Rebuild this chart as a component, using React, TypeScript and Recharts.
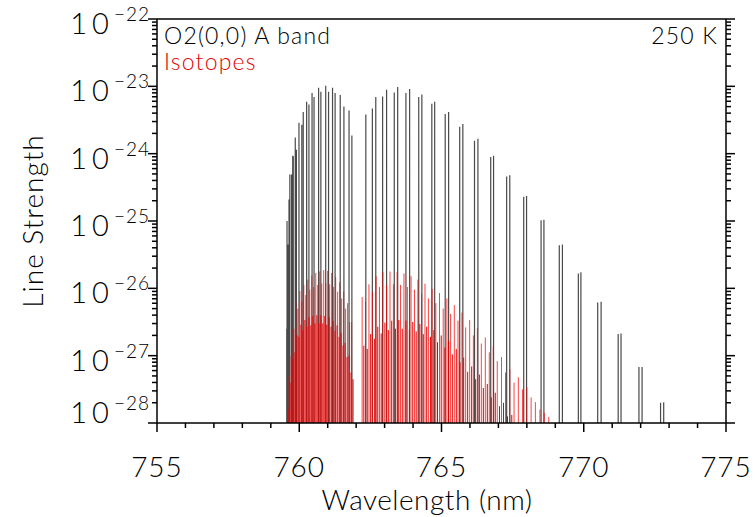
import React from 'react';
import { ComposedChart, Line, XAxis, YAxis } from 'recharts';

// O2 A band main lines, R branch (wavelength in nm, log10 of line strength)
const mainRWl = [759.56, 759.57, 759.59, 759.60, 759.62, 759.64, 759.67, 759.73, 759.77, 759.79, 759.86, 759.90, 759.99, 760.09, 760.14, 760.26, 760.34, 760.45, 760.52, 760.68, 760.76, 760.93, 761.03, 761.17, 761.26, 761.44, 761.57, 761.75, 761.85];
const mainRLog = [-26.6, -25.0, -26.0, -25.35, -25.7, -24.68, -24.31, -24.31, -24.03, -24.04, -23.76, -23.94, -23.54, -23.57, -23.38, -23.23, -23.27, -23.10, -23.16, -23.02, -23.08, -22.99, -23.08, -23.02, -23.10, -23.13, -23.30, -23.36, -23.73];

// main lines, P branch (doublets)
const mainPWl = [762.34, 762.57, 762.69, 762.93, 763.07, 763.34, 763.46, 763.75, 763.88, 764.20, 764.31, 764.66, 764.76, 765.13, 765.25, 765.64, 765.75, 766.16, 766.28, 766.73, 766.83, 767.29, 767.40, 767.89, 767.99, 768.50, 768.60, 769.14, 769.25, 769.81, 769.90, 770.49, 770.61, 771.21, 771.31, 771.94, 772.05, 772.70, 772.81];
const mainPLog = [-23.42, -23.33, -23.16, -23.15, -23.05, -23.09, -23.01, -23.10, -23.04, -23.16, -23.12, -23.26, -23.23, -23.41, -23.38, -23.60, -23.56, -23.81, -23.78, -24.05, -24.03, -24.34, -24.32, -24.64, -24.63, -24.99, -24.98, -25.36, -25.35, -25.78, -25.76, -26.21, -26.20, -26.68, -26.67, -27.17, -27.17, -27.70, -27.69];

// isotopologue lines (stronger set)
const iso1Wl = [759.60, 759.67, 759.74, 759.81, 759.88, 759.95, 760.02, 760.09, 760.16, 760.23, 760.30, 760.37, 760.44, 760.51, 760.58, 760.65, 760.72, 760.79, 760.86, 760.93, 761.00, 761.07, 761.14, 761.21, 761.28, 761.35, 761.42, 761.49, 761.56, 761.63, 761.70, 761.77, 761.84,
  762.21, 762.33, 762.45, 762.57, 762.70, 762.82, 762.94, 763.07, 763.19, 763.31, 763.44, 763.56, 763.68, 763.80, 763.93, 764.05, 764.17, 764.30, 764.42, 764.54, 764.67, 764.80, 764.93, 765.06, 765.19, 765.32, 765.45, 765.58, 765.72, 765.85, 765.99, 766.12, 766.26, 766.40, 766.54, 766.68, 766.82, 766.96, 767.11, 767.25, 767.40, 767.55, 767.70, 767.85, 768.00, 768.15, 768.30, 768.46, 768.61, 768.77];
const iso1Log = [-27.3, -27.0, -26.6, -26.6, -26.2, -26.3, -26.04, -26.2, -25.95, -26.1, -25.87, -26.02, -25.81, -25.98, -25.77, -25.95, -25.75, -25.93, -25.73, -25.92, -25.74, -25.94, -25.77, -25.98, -25.83, -26.05, -25.91, -26.15, -26.05, -26.3, -26.22, -26.5, -26.5,
  -26.13, -26.20, -25.94, -26.05, -25.82, -25.98, -25.76, -25.95, -25.75, -25.94, -25.76, -25.95, -25.78, -25.98, -25.82, -26.02, -25.87, -26.08, -25.93, -26.15, -26.01, -26.22, -26.07, -26.30, -26.15, -26.38, -26.25, -26.48, -26.36, -26.58, -26.47, -26.70, -26.59, -26.82, -26.73, -26.95, -26.86, -27.08, -27.02, -27.25, -27.20, -27.40, -27.32, -27.50, -27.47, -27.62, -27.69, -27.80, -27.85, -27.91];

// isotopologue lines (weaker set)
const iso2Wl = [759.64, 759.71, 759.78, 759.85, 759.92, 759.99, 760.06, 760.13, 760.20, 760.27, 760.34, 760.41, 760.48, 760.55, 760.62, 760.69, 760.76, 760.83, 760.90, 760.97, 761.05, 761.12, 761.19, 761.26, 761.33, 761.40, 761.47, 761.54, 761.61, 761.68, 761.75, 761.82, 761.89,
  762.27, 762.39, 762.51, 762.64, 762.76, 762.88, 763.01, 763.13, 763.25, 763.38, 763.50, 763.62, 763.75, 763.87, 763.99, 764.11, 764.24, 764.36, 764.48, 764.61, 764.73, 764.86, 764.99, 765.12, 765.25, 765.38, 765.52, 765.65, 765.78, 765.92, 766.06, 766.20, 766.33, 766.47, 766.61, 766.75, 766.89, 767.04, 767.18, 767.32, 767.47];
const iso2Log = [-27.8, -27.4, -27.05, -26.95, -26.70, -26.72, -26.54, -26.62, -26.47, -26.57, -26.43, -26.55, -26.41, -26.52, -26.40, -26.52, -26.40, -26.52, -26.41, -26.54, -26.43, -26.57, -26.48, -26.63, -26.55, -26.72, -26.66, -26.85, -26.81, -27.02, -27.00, -27.25, -27.35,
  -26.85, -26.90, -26.68, -26.75, -26.57, -26.67, -26.51, -26.62, -26.48, -26.60, -26.47, -26.60, -26.48, -26.62, -26.50, -26.64, -26.53, -26.68, -26.57, -26.72, -26.62, -26.80, -26.70, -26.88, -26.78, -26.98, -26.90, -27.10, -27.03, -27.24, -27.16, -27.35, -27.28, -27.48, -27.42, -27.62, -27.55, -27.75, -27.70, -27.90, -27.88];

const xTicks = [755, 756, 757, 758, 759, 760, 761, 762, 763, 764, 765, 766, 767, 768, 769, 770, 771, 772, 773, 774, 775];
const xMajor = [755, 760, 765, 770, 775];
const yDecades = [-28, -27, -26, -25, -24, -23, -22];
const yMinorMult = [2, 3, 4, 5, 6, 7, 8, 9];

const yTicks: number[] = [];
yDecades.forEach((d, i) => {
  yTicks.push(Math.pow(10, d));
  if (i < yDecades.length - 1) yMinorMult.forEach(m => yTicks.push(m * Math.pow(10, d)));
});

const FLOOR = Math.pow(10, yDecades[0]);
const CEIL = Math.pow(10, yDecades[yDecades.length - 1]);

// each line becomes a vertical stick: floor -> strength, then a gap
const sticks = (wl: number[], lg: number[]) =>
  wl.flatMap((w, i) => [
    { x: w, y: FLOOR },
    { x: w, y: Math.pow(10, lg[i]) },
    { x: w, y: null },
  ]);

const mainData = [...sticks(mainRWl, mainRLog), ...sticks(mainPWl, mainPLog)];
const iso2Data = sticks(iso2Wl, iso2Log);
const iso1Data = sticks(iso1Wl, iso1Log);

const FONT = 'Lato, "DejaVu Sans", sans-serif';
const WEIGHT = 300;
const PLOT_LEFT = 157;
const PLOT_RIGHT = 726;
const PLOT_TOP = 19;
const PLOT_BOTTOM = 423;

const XTick = (props: any) => {
  const { x, y, payload, top } = props;
  const major = xMajor.includes(payload.value);
  const len = major ? 9 : 5;
  return (
    <g>
      <line x1={x} x2={x} y1={y} y2={top ? y - len : y + len} stroke="#000" strokeWidth={1.5} />
      {major && !top && (
        <text x={x} y={y + 54} textAnchor="middle" fontSize={28} fontWeight={WEIGHT} letterSpacing={1} fontFamily={FONT} fill="#000">
          {payload.value}
        </text>
      )}
    </g>
  );
};

const YTick = (props: any) => {
  const { x, y, payload, right } = props;
  const e = Math.log10(payload.value);
  const major = Math.abs(e - Math.round(e)) < 1e-6;
  const len = major ? 9 : 5;
  return (
    <g>
      <line x1={x} x2={right ? x + len : x - len} y1={y} y2={y} stroke="#000" strokeWidth={1.5} />
      {major && !right && (
        <text x={x - 7} y={Math.min(y + 15, PLOT_BOTTOM)} textAnchor="end" fontFamily={FONT} fontWeight={WEIGHT} fill="#000">
          <tspan fontSize={29} letterSpacing={5}>10</tspan>
          <tspan fontSize={19} dy={-13} letterSpacing={1}>{'\u2212' + Math.abs(Math.round(e))}</tspan>
        </text>
      )}
    </g>
  );
};

const axisCommon = {
  type: 'number' as const,
  interval: 0 as const,
  allowDataOverflow: true,
  tickSize: 0,
  tickMargin: 0,
  tickLine: false,
  axisLine: { stroke: '#000', strokeWidth: 1.5 },
};

const App: React.FC = () => {
  return (
    <div style={{ position: 'absolute', left: 0, top: 0, width: 755, height: 517, background: '#fff' }}>
      <ComposedChart
        width={755}
        height={517}
        margin={{ top: PLOT_TOP - 10, right: 755 - PLOT_RIGHT - 10, bottom: 517 - PLOT_BOTTOM - 60, left: PLOT_LEFT - 60 }}
      >
        <XAxis {...axisCommon} dataKey="x" domain={[755, 775]} ticks={xTicks} height={60} tick={<XTick />} />
        <XAxis {...axisCommon} xAxisId="top" orientation="top" domain={[755, 775]} ticks={xTicks} height={10} tick={<XTick top />} />
        <YAxis {...axisCommon} scale="log" domain={[FLOOR, CEIL]} ticks={yTicks} width={60} tick={<YTick />} />
        <YAxis {...axisCommon} yAxisId="right" orientation="right" scale="log" domain={[FLOOR, CEIL]} ticks={yTicks} width={10} tick={<YTick right />} />
        <Line data={mainData} dataKey="y" type="linear" stroke="#4a4a4a" strokeWidth={1.2} dot={false} activeDot={false} isAnimationActive={false} />
        <Line data={iso2Data} dataKey="y" type="linear" stroke="#e00000" strokeWidth={1} dot={false} activeDot={false} isAnimationActive={false} />
        <Line data={iso1Data} dataKey="y" type="linear" stroke="#ff0000" strokeWidth={1} strokeOpacity={0.75} dot={false} activeDot={false} isAnimationActive={false} />
      </ComposedChart>
      <svg width={755} height={517} style={{ position: 'absolute', left: 0, top: 0, pointerEvents: 'none' }}>
        <text x={164} y={44} fontSize={23} fontWeight={WEIGHT} letterSpacing={1.2} fontFamily={FONT} fill="#000">O2(0,0) A band</text>
        <text x={164} y={70} fontSize={23} fontWeight={WEIGHT} letterSpacing={1.2} fontFamily={FONT} fill="#e00000">Isotopes</text>
        <text x={718} y={44} fontSize={23} fontWeight={WEIGHT} letterSpacing={1.2} fontFamily={FONT} fill="#000" textAnchor="end">250 K</text>
        <text x={427} y={510} fontSize={28} fontWeight={WEIGHT} letterSpacing={0.5} fontFamily={FONT} fill="#000" textAnchor="middle">Wavelength (nm)</text>
        <text x={43} y={221} fontSize={28} fontWeight={WEIGHT} letterSpacing={1} fontFamily={FONT} fill="#000" textAnchor="middle" transform="rotate(-90 43 221)">Line Strength</text>
      </svg>
    </div>
  );
};

export default App;
